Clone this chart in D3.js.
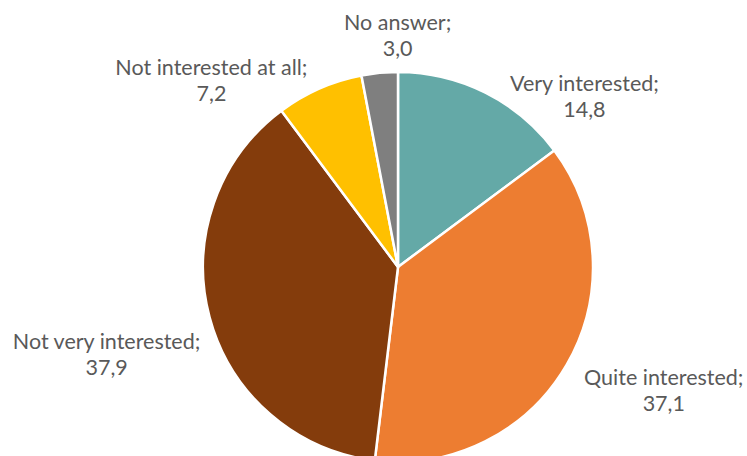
<!DOCTYPE html>
<html>
<head>
<meta charset="utf-8">
<script src="https://cdn.jsdelivr.net/npm/d3@7"></script>
<style>
  body { margin: 0; background: #fff; }
  svg { display: block; }
</style>
</head>
<body>
<script>
var width = 747;
var height = 456;

// data
var categories = ["Very interested", "Quite interested", "Not very interested", "Not interested at all", "No answer"];
var values = [14.8, 37.1, 37.9, 7.2, 3.0];
var valueLabels = ["14,8", "37,1", "37,9", "7,2", "3,0"];
var colors = ["#64a9a7", "#ed7d31", "#843c0c", "#ffc000", "#7f7f7f"];

// label nudges from the arc edge (layout only)
var labelNudge = [[99, 3], [97, 25], [-103, 37], [-108, -9], [18, -38]];

var cx = 398, cy = 267, radius = 195;

var svg = d3.select("body")
    .append("svg")
    .attr("width", width)
    .attr("height", height);

var g = svg.append("g")
    .attr("transform", "translate(" + cx + "," + cy + ")");

var pie = d3.pie().sort(null).value(function (d) { return d; });
var arcs = pie(values);

var arc = d3.arc().innerRadius(0).outerRadius(radius);
var edgeArc = d3.arc().innerRadius(radius).outerRadius(radius);

g.selectAll("path.slice")
    .data(arcs)
    .enter()
    .append("path")
    .attr("class", "slice")
    .attr("d", arc)
    .attr("fill", function (d, i) { return colors[i]; })
    .attr("stroke", "#fff")
    .attr("stroke-width", 2.5)
    .attr("stroke-linejoin", "round");

var labels = g.selectAll("text.lbl")
    .data(arcs)
    .enter()
    .append("text")
    .attr("class", "lbl")
    .attr("text-anchor", "middle")
    .style("font-family", "Lato, 'Open Sans', sans-serif")
    .style("font-size", "21.5px")
    .attr("fill", "#595959")
    .attr("transform", function (d, i) {
        var c = edgeArc.centroid(d);
        return "translate(" + (c[0] + labelNudge[i][0]) + "," + (c[1] + labelNudge[i][1]) + ")";
    });

labels.append("tspan")
    .attr("x", 0)
    .attr("y", -5)
    .text(function (d, i) { return categories[i] + ";"; });

labels.append("tspan")
    .attr("x", 0)
    .attr("y", 21)
    .text(function (d, i) { return valueLabels[i]; });
</script>
</body>
</html>
